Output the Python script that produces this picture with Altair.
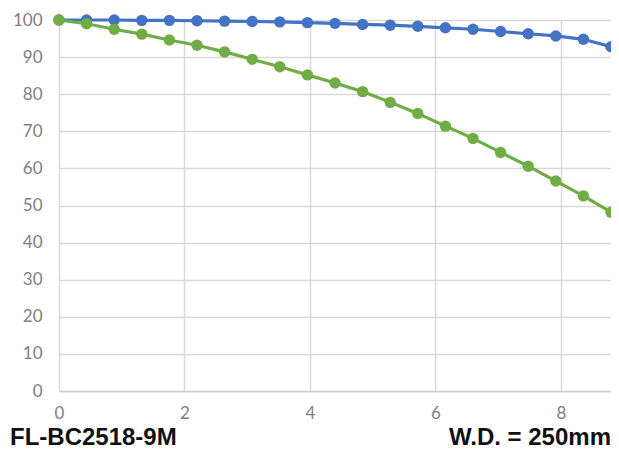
import altair as alt
import pandas as pd

x_vals = [0, 0.44, 0.88, 1.32, 1.76, 2.2, 2.64, 3.08, 3.52, 3.96, 4.4,
          4.84, 5.28, 5.72, 6.16, 6.6, 7.04, 7.48, 7.92, 8.36, 8.8]
blue_vals = [100, 100, 100, 99.9, 99.9, 99.8, 99.7, 99.6, 99.5, 99.3, 99.1,
             98.8, 98.6, 98.3, 97.9, 97.5, 96.9, 96.3, 95.7, 94.8, 92.8]
green_vals = [100, 99.0, 97.5, 96.2, 94.6, 93.2, 91.4, 89.4, 87.4, 85.2, 83.0,
              80.7, 77.8, 74.8, 71.4, 68.1, 64.3, 60.6, 56.6, 52.6, 48.2]
series_names = ["blue", "green"]
series_colors = ["#4472C4", "#70AD47"]
left_label = "FL-BC2518-9M"
right_label = "W.D. = 250mm"

rows = []
for i, x in enumerate(x_vals):
    rows.append({"x": x, "y": blue_vals[i], "s": "blue", "o": 0})
    rows.append({"x": x, "y": green_vals[i], "s": "green", "o": 1})
df = pd.DataFrame(rows)

W, H = 552, 371

xs = alt.X("x:Q", scale=alt.Scale(domain=[0, 8.8], nice=False, zero=False),
           axis=alt.Axis(values=[0, 2, 4, 6, 8], grid=True, gridColor="#d9d9d9",
                         gridWidth=1.5, domain=True, domainColor="#d0d0d0", domainWidth=1.5,
                         ticks=False, labelFont="Lato", labelFontSize=17,
                         labelColor="#7f7f7f", labelPadding=14, title=None,
                         labelFlush=False))
ys = alt.Y("y:Q", scale=alt.Scale(domain=[0, 100], nice=False),
           axis=alt.Axis(values=list(range(0, 101, 10)), grid=True, gridColor="#d9d9d9",
                         gridWidth=1.5, domain=False, ticks=False, labelFont="Lato",
                         labelFontSize=17, labelColor="#7f7f7f", labelPadding=17,
                         title=None))
color = alt.Color("s:N", scale=alt.Scale(domain=series_names, range=series_colors), legend=None)

lines = alt.Chart(df).mark_line(strokeWidth=3.2, clip=False).encode(
    x=xs, y=ys, color=color, detail="s:N", order="x:Q")
points = alt.Chart(df).mark_circle(size=130, opacity=1, clip=False).encode(
    x=xs, y=ys, color=color, order="o:Q")

texts = pd.DataFrame({"t": [left_label, right_label]})
t_left = alt.Chart(texts.iloc[[0]]).mark_text(
    font="Liberation Sans", fontWeight="bold", fontSize=24, align="left",
    baseline="alphabetic", color="#111111").encode(
    text="t:N", x=alt.value(-49), y=alt.value(425))
t_right = alt.Chart(texts.iloc[[1]]).mark_text(
    font="Liberation Sans", fontWeight="bold", fontSize=24, align="right",
    baseline="alphabetic", color="#111111").encode(
    text="t:N", x=alt.value(W), y=alt.value(425))

chart = alt.layer(lines, points, t_left, t_right).properties(
    width=W, height=H,
    autosize=alt.AutoSizeParams(type="none"),
    padding={"left": 51, "top": 12, "right": 0, "bottom": 61},
).configure_view(stroke=None).configure(background="white")

chart.save("out.html", embed_options={"renderer": "svg", "actions": False})
